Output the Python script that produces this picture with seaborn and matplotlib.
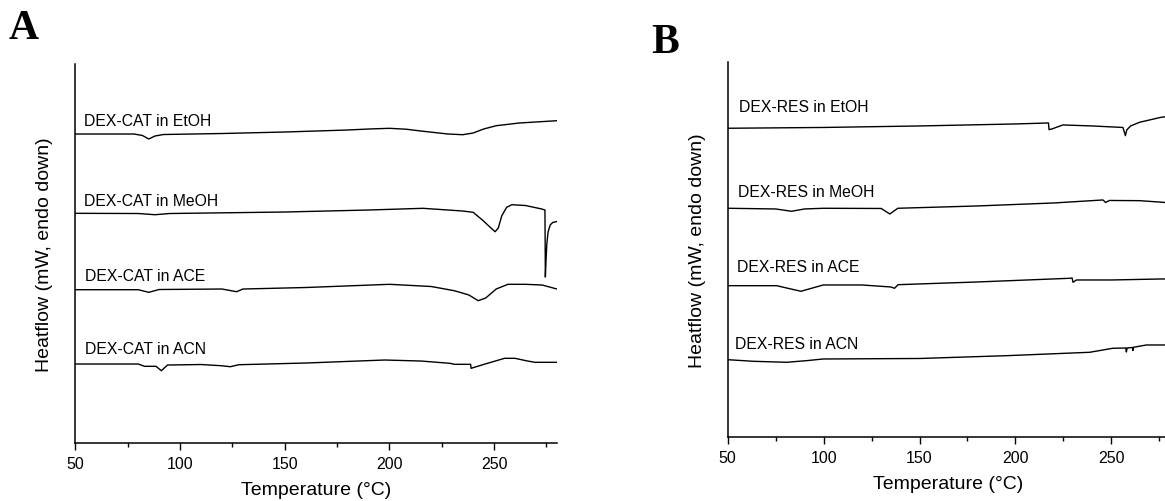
import matplotlib
matplotlib.use("Agg")
import matplotlib.pyplot as plt
import seaborn as sns
from matplotlib.ticker import MultipleLocator

sns.set_style("ticks")
plt.rcParams['font.family'] = ['Liberation Sans', 'DejaVu Sans']
plt.rcParams['text.color'] = 'black'
plt.rcParams['axes.labelcolor'] = 'black'
plt.rcParams['xtick.color'] = 'black'
plt.rcParams['ytick.color'] = 'black'

# ---- panel A : DEX-CAT ----
cat_etoh_t = [50, 78, 82, 85, 88, 92, 120, 150, 180, 190, 200, 208, 215, 228, 235, 240, 245, 251, 262, 280]
cat_etoh_hf = [30.9, 30.9, 30.75, 30.4, 30.7, 30.85, 30.95, 31.1, 31.3, 31.4, 31.47, 31.38, 31.2, 30.9, 30.83, 31.0, 31.4, 31.73, 32.0, 32.23]

cat_meoh_t = [50, 80, 88, 95, 150, 190, 216, 228, 235, 240, 244.8, 248, 250.5, 252, 253.7, 256, 258.5, 265,
              272.8, 274.3, 274.5, 274.8, 275.2, 275.8, 276.8, 278, 280]
cat_meoh_hf = [22.97, 22.95, 22.83, 22.95, 23.1, 23.3, 23.47, 23.3, 23.2, 23.07, 22.23, 21.6, 21.13, 21.5, 22.73, 23.57, 23.83, 23.75,
               23.4, 23.3, 16.6, 18.2, 19.9, 21.1, 21.8, 22.05, 22.15]

cat_ace_t = [50, 80, 85, 90, 120, 127, 130, 160, 200, 220, 231, 238, 242.4, 246, 251, 256.6, 265, 273, 280]
cat_ace_hf = [15.33, 15.33, 15.07, 15.35, 15.4, 15.13, 15.4, 15.55, 15.87, 15.65, 15.23, 14.8, 14.23, 14.5, 15.4, 15.87, 15.87, 15.8, 15.4]

cat_acn_t = [50, 80, 83, 88.5, 91, 94, 110, 119.6, 124, 128, 160, 197.7, 215, 229, 231, 238.8, 239, 245.7, 255, 260, 266, 269.6, 280]
cat_acn_hf = [7.9, 7.9, 7.67, 7.67, 7.23, 7.8, 7.85, 7.73, 7.63, 7.83, 8.0, 8.3, 8.2, 7.97, 7.87, 7.87, 7.47, 7.9, 8.47, 8.47, 8.2, 8.07, 8.07]

# ---- panel B : DEX-RES ----
res_etoh_t = [50, 100, 150, 200, 217.2, 217.5, 219, 224.7, 240, 256, 257.3, 258, 260, 264.7, 276, 280]
res_etoh_hf = [30.9, 30.98, 31.13, 31.33, 31.43, 30.76, 30.83, 31.23, 31.13, 30.98, 30.16, 30.73, 31.13, 31.5, 32.0, 32.08]

res_meoh_t = [50, 75, 83.3, 90, 100, 130, 134.5, 138.7, 180, 220, 245.6, 247, 249, 264.7, 276.7, 280]
res_meoh_hf = [22.9, 22.83, 22.6, 22.83, 22.9, 22.88, 22.33, 22.9, 23.13, 23.43, 23.73, 23.48, 23.68, 23.66, 23.5, 23.43]

res_ace_t = [50, 75.5, 88.2, 99.8, 120, 135, 137, 138.8, 180, 228.3, 229.5, 230, 231.8, 250, 276, 280]
res_ace_hf = [15.16, 15.16, 14.6, 15.23, 15.23, 15.03, 14.9, 15.26, 15.53, 15.9, 15.93, 15.5, 15.73, 15.73, 15.83, 15.83]

res_acn_t = [50, 63.3, 80.7, 91, 99.8, 150, 195.3, 238.7, 250.7, 257.5, 257.8, 258.2, 261, 261.2, 261.5, 268.2, 276.9, 280]
res_acn_hf = [7.76, 7.6, 7.5, 7.66, 7.83, 7.88, 8.16, 8.5, 8.9, 8.93, 8.53, 8.93, 8.98, 8.68, 9.0, 9.23, 9.23, 9.23]

cat_names = ["DEX-CAT in EtOH", "DEX-CAT in MeOH", "DEX-CAT in ACE", "DEX-CAT in ACN"]
res_names = ["DEX-RES in EtOH", "DEX-RES in MeOH", "DEX-RES in ACE", "DEX-RES in ACN"]
cat_label_pos = [(54.1, 32.23), (54.1, 24.23), (54.5, 16.73), (54.5, 9.5)]
res_label_pos = [(55.9, 33.03), (55.4, 24.53), (54.7, 17.03), (53.8, 9.33)]

fig = plt.figure(figsize=(11.65, 5.02), dpi=100)
axA = fig.add_axes([0.0648, 0.1155, 0.4132, 0.755])
axB = fig.add_axes([0.6246, 0.1269, 0.3788, 0.7471])

cat_curves = [(cat_etoh_t, cat_etoh_hf), (cat_meoh_t, cat_meoh_hf), (cat_ace_t, cat_ace_hf), (cat_acn_t, cat_acn_hf)]
res_curves = [(res_etoh_t, res_etoh_hf), (res_meoh_t, res_meoh_hf), (res_ace_t, res_ace_hf), (res_acn_t, res_acn_hf)]

for ax, curves, names, lpos, ytop, ylab_x, xlab_y in [
        (axA, cat_curves, cat_names, cat_label_pos, 37.9, -0.0634, -0.123),
        (axB, res_curves, res_names, res_label_pos, 37.5, -0.0673, -0.1245)]:
    for (t, hf), name, (lx, ly) in zip(curves, names, lpos):
        sns.lineplot(x=t, y=hf, ax=ax, color="black", linewidth=1.0, sort=False, estimator=None)
        ax.text(lx, ly, name, fontsize=11.3, va="center", ha="left", color="black")
    ax.set_xlim(50, 280)
    ax.set_ylim(0, ytop)
    ax.set_yticks([])
    ax.xaxis.set_major_locator(MultipleLocator(50))
    ax.xaxis.set_minor_locator(MultipleLocator(25))
    ax.tick_params(axis="x", which="major", length=5, width=1, labelsize=11.5, pad=4)
    ax.tick_params(axis="x", which="minor", length=3, width=1)
    for s in ["top", "right"]:
        ax.spines[s].set_visible(False)
    for s in ["left", "bottom"]:
        ax.spines[s].set_linewidth(1.1)
        ax.spines[s].set_color("black")
    ax.set_xlabel("Temperature (°C)", fontsize=14)
    ax.set_ylabel("Heatflow (mW, endo down)", fontsize=14)
    ax.xaxis.set_label_coords(0.5, xlab_y)
    ax.xaxis.label.set_va("center")
    ax.yaxis.set_label_coords(ylab_x, 0.5)
    ax.yaxis.label.set_va("center")

fig.text(0.0206, 0.942, "A", fontsize=30, fontweight="bold", family="Liberation Serif", ha="center", va="center", color="black")
fig.text(0.571, 0.914, "B", fontsize=30, fontweight="bold", family="Liberation Serif", ha="center", va="center", color="black")

fig.savefig("out.png", dpi=100)
